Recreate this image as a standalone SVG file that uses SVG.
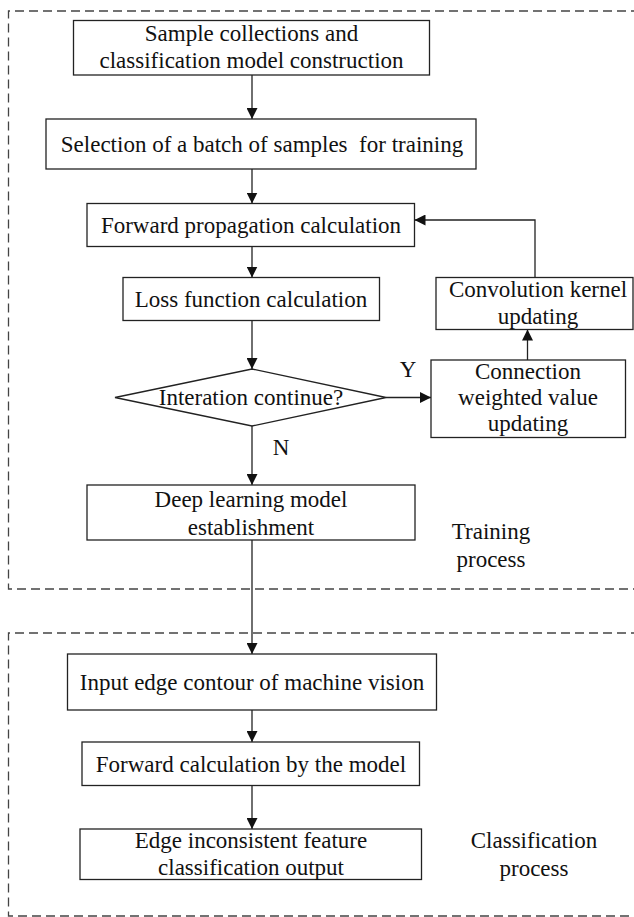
<svg xmlns="http://www.w3.org/2000/svg" width="634" height="917" viewBox="0 0 634 917">
<style>
.bx{fill:#fff;stroke:#222;stroke-width:1.3}
.t{font-family:"Liberation Serif","Times New Roman",serif;font-size:23px;fill:#111;text-anchor:middle}
.ln{fill:none;stroke:#222;stroke-width:1.3}
.dash{fill:none;stroke:#444;stroke-width:1.3;stroke-dasharray:9 5}
</style>
<defs>
<marker id="ah" viewBox="0 0 10 10" refX="10" refY="5" markerWidth="11" markerHeight="11" markerUnits="userSpaceOnUse" orient="auto">
<path d="M0,0 L10,5 L0,10 Z" fill="#111"/>
</marker>
</defs>
<rect width="634" height="917" fill="#fff"/>
<g id="regions">
<path class="dash" d="M640,11 H8.5 V589 H640"/>
<path class="dash" d="M640,633 H8.5 V916 H640"/>
</g>
<g id="connectors">
<line class="ln" x1="252" y1="75" x2="252" y2="119" marker-end="url(#ah)"/>
<line class="ln" x1="252" y1="169" x2="252" y2="203.5" marker-end="url(#ah)"/>
<line class="ln" x1="252" y1="246.5" x2="252" y2="277.5" marker-end="url(#ah)"/>
<line class="ln" x1="252" y1="320.5" x2="252" y2="369" marker-end="url(#ah)"/>
<line class="ln" x1="252" y1="426" x2="252" y2="485" marker-end="url(#ah)"/>
<line class="ln" x1="386" y1="397.5" x2="431" y2="397.5" marker-end="url(#ah)"/>
<line class="ln" x1="527.5" y1="360" x2="527.5" y2="329.5" marker-end="url(#ah)"/>
<polyline class="ln" points="535,277.5 535,220 414.5,220" marker-end="url(#ah)"/>
<line class="ln" x1="252" y1="540" x2="252" y2="654" marker-end="url(#ah)"/>
<line class="ln" x1="252" y1="710" x2="252" y2="742" marker-end="url(#ah)"/>
<line class="ln" x1="252" y1="785.5" x2="252" y2="829" marker-end="url(#ah)"/>
</g>
<g id="n1">
<rect class="bx" x="73.5" y="20.5" width="356" height="54.5"/>
<text class="t" x="251.5" y="41">Sample collections and</text>
<text class="t" x="251.5" y="68">classification model construction</text>
</g>
<g id="n2">
<rect class="bx" x="46" y="119" width="430" height="50"/>
<text class="t" x="262" y="152" xml:space="preserve">Selection of a batch of samples  for training</text>
</g>
<g id="n3">
<rect class="bx" x="87" y="203.5" width="327.5" height="43"/>
<text class="t" x="251" y="233">Forward propagation calculation</text>
</g>
<g id="n4">
<rect class="bx" x="123" y="277.5" width="256.5" height="43"/>
<text class="t" x="251" y="307">Loss function calculation</text>
</g>
<g id="n5">
<polygon class="bx" points="252,369 386,397.5 252,426 115,397.5"/>
<text class="t" x="251" y="405">Interation continue?</text>
</g>
<g id="n6">
<rect class="bx" x="431" y="360" width="194.5" height="77.5"/>
<text class="t" x="528" y="378.5">Connection</text>
<text class="t" x="528" y="405">weighted value</text>
<text class="t" x="528" y="430.5">updating</text>
</g>
<g id="n7">
<rect class="bx" x="436" y="277.5" width="197" height="52"/>
<text class="t" x="538" y="297">Convolution kernel</text>
<text class="t" x="538" y="323.5">updating</text>
</g>
<g id="n8">
<rect class="bx" x="87" y="485" width="328" height="55"/>
<text class="t" x="251" y="506.5">Deep learning model</text>
<text class="t" x="251" y="535">establishment</text>
</g>
<g id="n9">
<rect class="bx" x="67.5" y="654" width="369" height="56"/>
<text class="t" x="252" y="690">Input edge contour of machine vision</text>
</g>
<g id="n10">
<rect class="bx" x="82" y="742" width="337.5" height="43.5"/>
<text class="t" x="251" y="771.5">Forward calculation by the model</text>
</g>
<g id="n11">
<rect class="bx" x="80" y="829" width="341.5" height="50.5"/>
<text class="t" x="251" y="848">Edge inconsistent feature</text>
<text class="t" x="251" y="875">classification output</text>
</g>
<g id="labels">
<text class="t" x="408" y="377">Y</text>
<text class="t" x="281" y="455">N</text>
<text class="t" x="491" y="539">Training</text>
<text class="t" x="491" y="567">process</text>
<text class="t" x="534" y="848">Classification</text>
<text class="t" x="534" y="876">process</text>
</g>
</svg>
